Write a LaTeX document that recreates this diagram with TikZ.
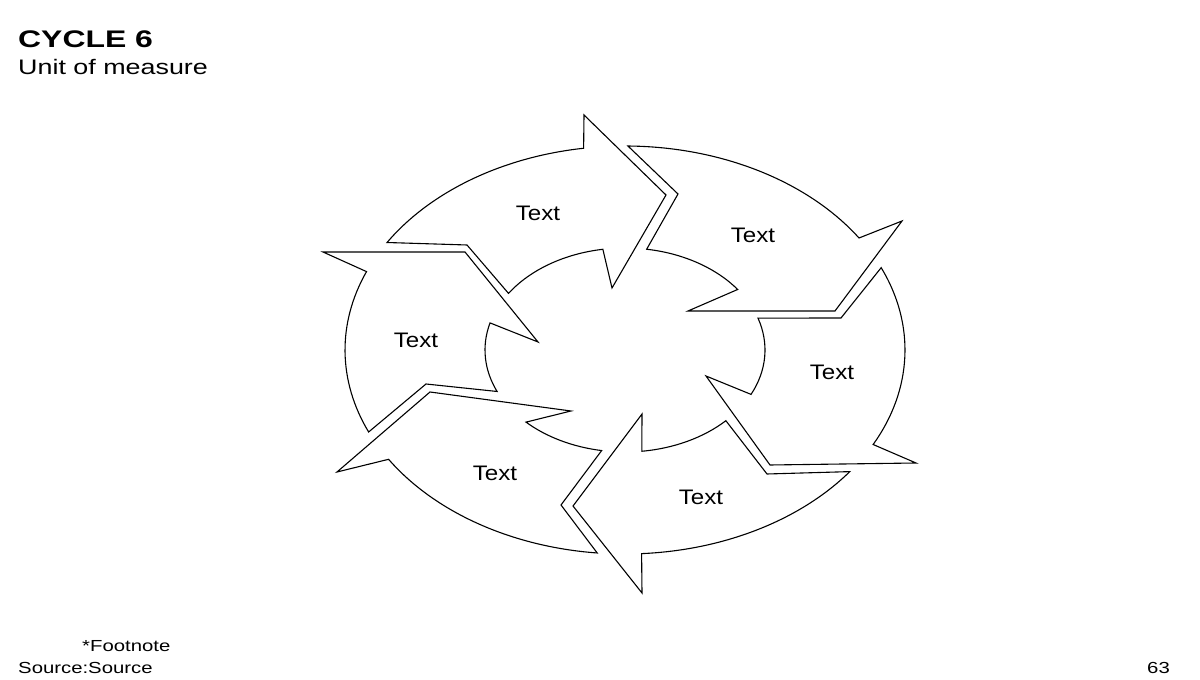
\documentclass[tikz,border=0pt]{standalone}
\usepackage{fontspec}
\setmainfont{Liberation Sans}
\usepackage{graphicx}
\usetikzlibrary{calc}
\tikzset{
  arr/.style={draw=black, line width=1.1pt, line join=miter, fill=white},
  lbl/.style={font=\fontsize{21}{24}\selectfont, inner sep=0pt},
  hdr/.style={anchor=base west, inner sep=0pt},
}
% #1 outer tail angle, #2 notch corner, #3 inner tail angle, #4 inner head angle,
% #5 inner barb, #6 chevron corner, #7 outer barb, #8 outer head angle
\newcommand{\cyarrow}[8]{%
  \draw[arr] ($(ctr)+(#1:280 and 204)$) -- #2 -- ($(ctr)+(#3:140 and 102)$)
    arc[start angle=#3, end angle=#4, x radius=140, y radius=102]
    -- #5 -- #6 -- #7 -- ($(ctr)+(#8:280 and 204)$)
    arc[start angle=#8, end angle=#1, x radius=280, y radius=204] -- cycle;}
\begin{document}
\begin{tikzpicture}[x=1pt, y=1pt]
  \fill[white] (0,0) rectangle (1200,680);
  \useasboundingbox (0,0) rectangle (1200,680);
  \coordinate (ctr) at (625,330);

  % six arrows of the cycle
  \cyarrow{148.2}{(467,435)}{146.3}{99.1}{(612,392)}{(666,485)}{(584,565)}{98.5}
  \cyarrow{89.4}{(678,486)}{81.1}{36.4}{(688,369)}{(835,369)}{(902,459)}{33.3}
  \cyarrow{23.8}{(841,362)}{18.2}{-25.8}{(706,304)}{(770,215)}{(916,217)}{-27.6}
  \cyarrow{-36.6}{(767,206)}{-43.9}{-83.1}{(642,266)}{(573,174)}{(642,87)}{-86.6}
  \cyarrow{264.3}{(561,175)}{260.4}{225.0}{(571,269)}{(430,288)}{(337,208)}{212.4}
  \cyarrow{203.7}{(426,296)}{204.0}{164.6}{(538,338)}{(465,428)}{(323,428)}{157.4}

  % labels
  \node[lbl] (t1) at (538,467) {\scalebox{1.15}[1]{Text}};
  \node[lbl] (t2) at (753,445) {\scalebox{1.15}[1]{Text}};
  \node[lbl] (t3) at (832,308) {\scalebox{1.15}[1]{Text}};
  \node[lbl] (t4) at (701,183) {\scalebox{1.15}[1]{Text}};
  \node[lbl] (t5) at (495,207) {\scalebox{1.15}[1]{Text}};
  \node[lbl] (t6) at (416,340) {\scalebox{1.15}[1]{Text}};

  % header and footer
  \node[hdr, font=\fontsize{24}{28}\selectfont\bfseries] (title) at (18,632) {\scalebox{1.33}[1]{CYCLE 6}};
  \node[hdr, font=\fontsize{21}{25}\selectfont] (unit) at (18,605) {\scalebox{1.28}[1]{Unit of measure}};
  \node[hdr, font=\fontsize{16}{19}\selectfont] (foot) at (82,28) {\scalebox{1.27}[1]{*Footnote}};
  \node[hdr, font=\fontsize{16}{19}\selectfont] (src) at (18,6) {\scalebox{1.27}[1]{Source:Source}};
  \node[anchor=base east, inner sep=0pt, font=\fontsize{16}{19}\selectfont] (page) at (1170,6) {\scalebox{1.27}[1]{63}};
\end{tikzpicture}
\end{document}
